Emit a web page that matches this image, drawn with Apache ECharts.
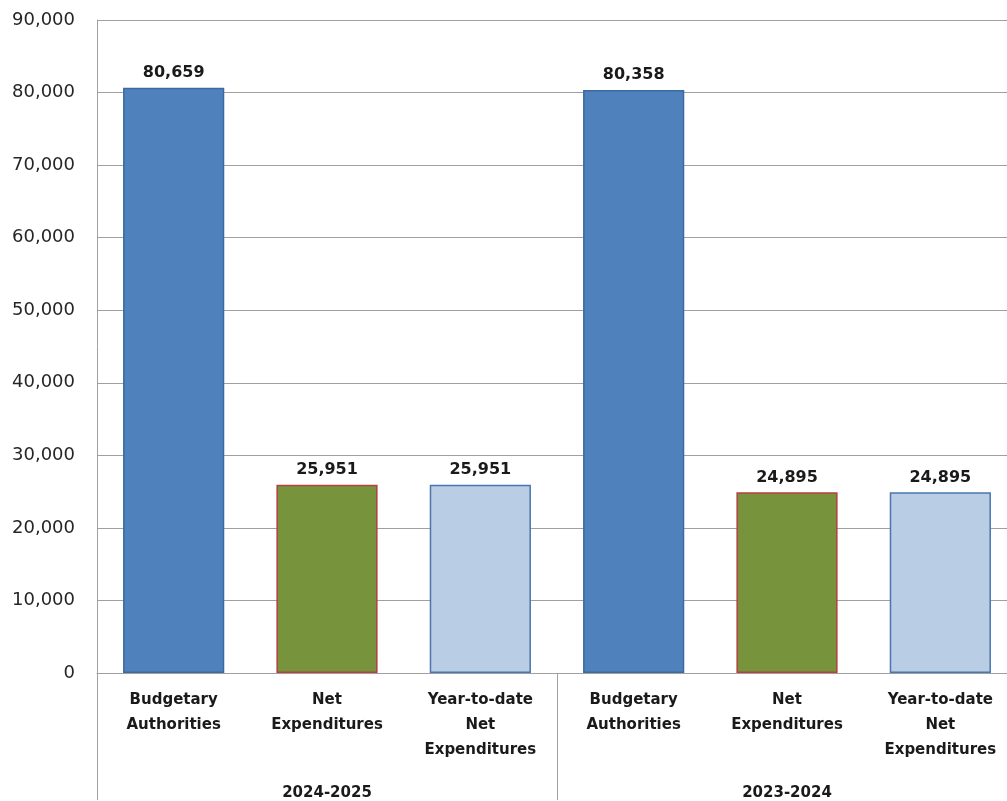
<!DOCTYPE html>
<html>
<head>
<meta charset="utf-8">
<script src="https://cdn.jsdelivr.net/npm/echarts@6/dist/echarts.min.js"></script>
<style>
html,body{margin:0;padding:0;background:#fff;overflow:hidden;width:1007px;height:801px;}
#chart{width:1017px;height:801px;}
</style>
</head>
<body>
<div id="chart"></div>
<script>
var categories = [
  'Budgetary\nAuthorities', 'Net\nExpenditures', 'Year-to-date\nNet\nExpenditures',
  'Budgetary\nAuthorities', 'Net\nExpenditures', 'Year-to-date\nNet\nExpenditures'
];
var values = [80659, 25951, 25951, 80358, 24895, 24895];
var groups = ['2024-2025', '2023-2024'];
var yTicks = { min: 0, max: 90000, interval: 10000 };

var fills = ['#4F81BD', '#77933C', '#B9CDE5'];
var borders = ['#3B6AA0', '#B3413F', '#4A75AE'];

var chart = echarts.init(document.getElementById('chart'));
chart.setOption({
  animation: false,
  grid: { left: 97, right: 0, top: 20, bottom: 127, containLabel: false },
  xAxis: [
    {
      type: 'category',
      data: categories,
      axisLine: { show: true, lineStyle: { color: '#A0A0A0', width: 1 } },
      axisTick: { show: false },
      axisLabel: {
        interval: 0,
        margin: 15,
        fontFamily: 'DejaVu Sans',
        fontWeight: 'bold',
        fontSize: 15,
        lineHeight: 25,
        color: '#1a1a1a',
        align: 'center'
      }
    },
    {
      type: 'category',
      data: groups,
      position: 'bottom',
      axisLine: { show: false },
      axisTick: { show: true, length: 127, lineStyle: { color: '#A0A0A0', width: 1 } },
      axisLabel: {
        margin: 113,
        fontFamily: 'DejaVu Sans',
        fontWeight: 'bold',
        fontSize: 15,
        color: '#1a1a1a'
      }
    }
  ],
  yAxis: {
    type: 'value',
    min: yTicks.min,
    max: yTicks.max,
    interval: yTicks.interval,
    axisLine: { show: true, lineStyle: { color: '#A0A0A0', width: 1 } },
    axisTick: { show: false },
    splitLine: { show: true, lineStyle: { color: '#A0A0A0', width: 1 } },
    axisLabel: {
      margin: 22,
      fontFamily: 'DejaVu Sans',
      fontSize: 18,
      color: '#262626',
      formatter: function (v) { return v.toLocaleString('en-US'); }
    }
  },
  series: [{
    type: 'bar',
    xAxisIndex: 0,
    barWidth: '66%',
    data: values.map(function (v, i) {
      return {
        value: v,
        itemStyle: { color: fills[i % 3], borderColor: borders[i % 3], borderWidth: 1.5 }
      };
    }),
    label: {
      show: true,
      position: 'top',
      distance: 7,
      fontFamily: 'DejaVu Sans',
      fontWeight: 'bold',
      fontSize: 16,
      color: '#1a1a1a',
      formatter: function (p) { return p.value.toLocaleString('en-US'); }
    }
  }]
});
</script>
</body>
</html>
